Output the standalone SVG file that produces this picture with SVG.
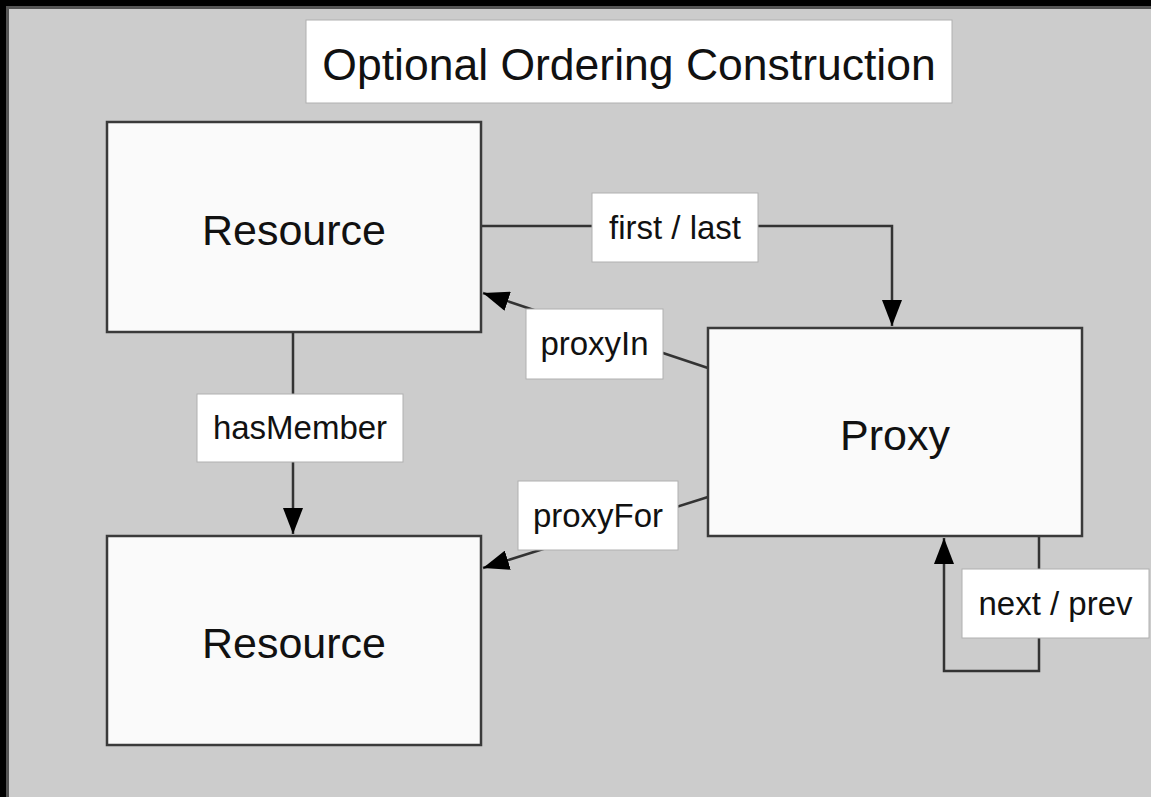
<svg xmlns="http://www.w3.org/2000/svg" width="1151" height="797" viewBox="0 0 1151 797">
<style>
.node{fill:#fafafa;stroke:#3a3a3a;stroke-width:2.5}
.lbl{fill:#ffffff;stroke:#b0b0b0;stroke-width:1}
.big{font-family:"Liberation Sans",Arial,sans-serif;font-size:43px;fill:#111;text-anchor:middle}
.title{font-size:44.5px}
.small{font-family:"Liberation Sans",Arial,sans-serif;font-size:33px;fill:#111;text-anchor:middle}
.edge{fill:none;stroke:#333;stroke-width:2.5}
</style>
<defs>
<marker id="arr" markerUnits="userSpaceOnUse" markerWidth="26" markerHeight="20" refX="26" refY="10" orient="auto">
<path d="M0,0 L26,10 L0,20 z" fill="#000"/>
</marker>
</defs>
<rect x="0" y="0" width="1151" height="797" fill="#000"/>
<rect x="7.5" y="7.5" width="1150" height="800" fill="#cccccc" stroke="#555" stroke-width="3"/>
<g id="title">
<rect class="lbl" x="306" y="20" width="646" height="83"/>
<text class="big title" x="629" y="80">Optional Ordering Construction</text>
</g>
<g id="connectors">
<path class="edge" d="M481,226 H892 V326" marker-end="url(#arr)"/>
<path class="edge" d="M708,368 L483,293" marker-end="url(#arr)"/>
<path class="edge" d="M708,497 L483,568" marker-end="url(#arr)"/>
<path class="edge" d="M293,332 V534" marker-end="url(#arr)"/>
<path class="edge" d="M1039,536 V671 H944 V538" marker-end="url(#arr)"/>
<rect class="lbl" x="592" y="193" width="166" height="69"/>
<text class="small" x="675" y="239">first / last</text>
<rect class="lbl" x="526" y="309" width="137" height="70"/>
<text class="small" x="594.5" y="355">proxyIn</text>
<rect class="lbl" x="197" y="394" width="206" height="68"/>
<text class="small" x="300" y="439">hasMember</text>
<rect class="lbl" x="518" y="481" width="160" height="69"/>
<text class="small" x="598" y="527">proxyFor</text>
<rect class="lbl" x="962" y="569" width="187" height="69"/>
<text class="small" x="1055.5" y="615">next / prev</text>
</g>
<g id="resource1">
<rect class="node" x="107" y="122" width="374" height="210"/>
<text class="big" x="294" y="245">Resource</text>
</g>
<g id="proxy">
<rect class="node" x="708" y="328" width="374" height="208"/>
<text class="big" x="895" y="450">Proxy</text>
</g>
<g id="resource2">
<rect class="node" x="107" y="536" width="374" height="209"/>
<text class="big" x="294" y="658">Resource</text>
</g>
</svg>
